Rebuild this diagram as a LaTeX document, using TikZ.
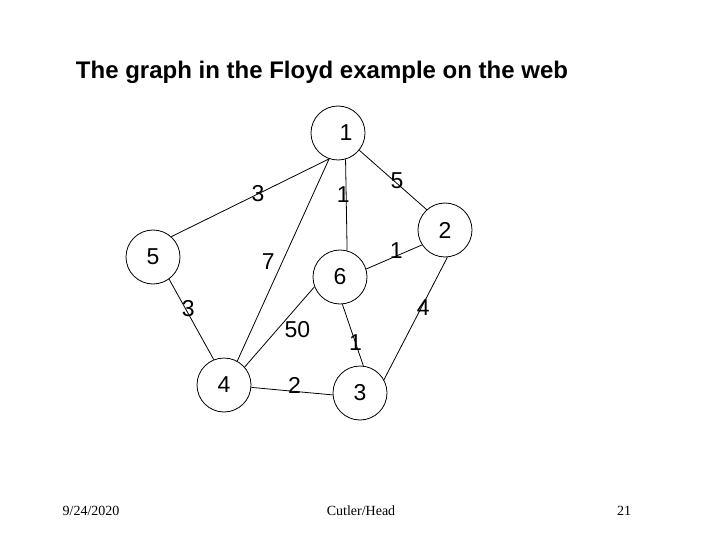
\documentclass[tikz,border=0pt]{standalone}
\usepackage{fontspec}
\setmainfont{Liberation Serif}
\newfontfamily\arialfont{Liberation Sans}
\usepackage{tikz}

\begin{document}
\begin{tikzpicture}[x=1pt,y=-1pt,
  vertex/.style={draw,circle,minimum size=54pt,inner sep=0pt,line width=.8pt,
    font=\arialfont\fontsize{23}{23}\selectfont},
  edge/.style={line width=.8pt},
  weight/.style={inner sep=0pt,font=\arialfont\fontsize{23}{23}\selectfont},
  footer/.style={font=\fontsize{14}{14}\selectfont}]
  \useasboundingbox (0,0) rectangle (720,540);
  \node[font=\arialfont\bfseries\fontsize{24}{24}\selectfont] (title) at (322,72)
    {The graph in the Floyd example on the web};
  \node[vertex] (v1) at (338,133) {\hspace{16pt}1};
  \node[vertex] (v2) at (445,230) {2};
  \node[vertex] (v3) at (360,393) {3};
  \node[vertex] (v4) at (224,385) {4};
  \node[vertex] (v5) at (153,257) {5};
  \node[vertex] (v6) at (340,277) {6};
  \draw[edge] (v1.251) -- node[weight,pos=.45] {3} (v5.48);
  \draw[edge] (v1.251) -- node[weight,pos=.51,xshift=-14pt] {7} (v4.61);
  \draw[edge] (v1.286) -- node[weight,pos=.39,xshift=-3pt] {1} (v6.75);
  \draw[edge] (v1.321) -- node[weight,pos=.56,yshift=3pt] {5} (v2.132);
  \draw[edge] (v2.213) -- node[weight,pos=.46,yshift=5pt] {1} (v6.17);
  \draw[edge] (v2.275) -- node[weight,pos=.41,xshift=2pt] {4} (v3.29);
  \draw[edge] (v6.201) -- node[weight,pos=.53,xshift=20pt] {50} (v4.41);
  \draw[edge] (v6.275) -- node[weight,pos=.63] {1} (v3.83);
  \draw[edge] (v5.306) -- node[weight,pos=.36,xshift=3pt] {3} (v4.112);
  \draw[edge] (v4.355) -- node[weight,pos=.53,yshift=6pt] {2} (v3.184);
  \node[footer] (date) at (91,511) {9/24/2020};
  \node[footer] (author) at (361,511) {Cutler/Head};
  \node[footer] (page) at (624,511) {21};
\end{tikzpicture}
\end{document}
